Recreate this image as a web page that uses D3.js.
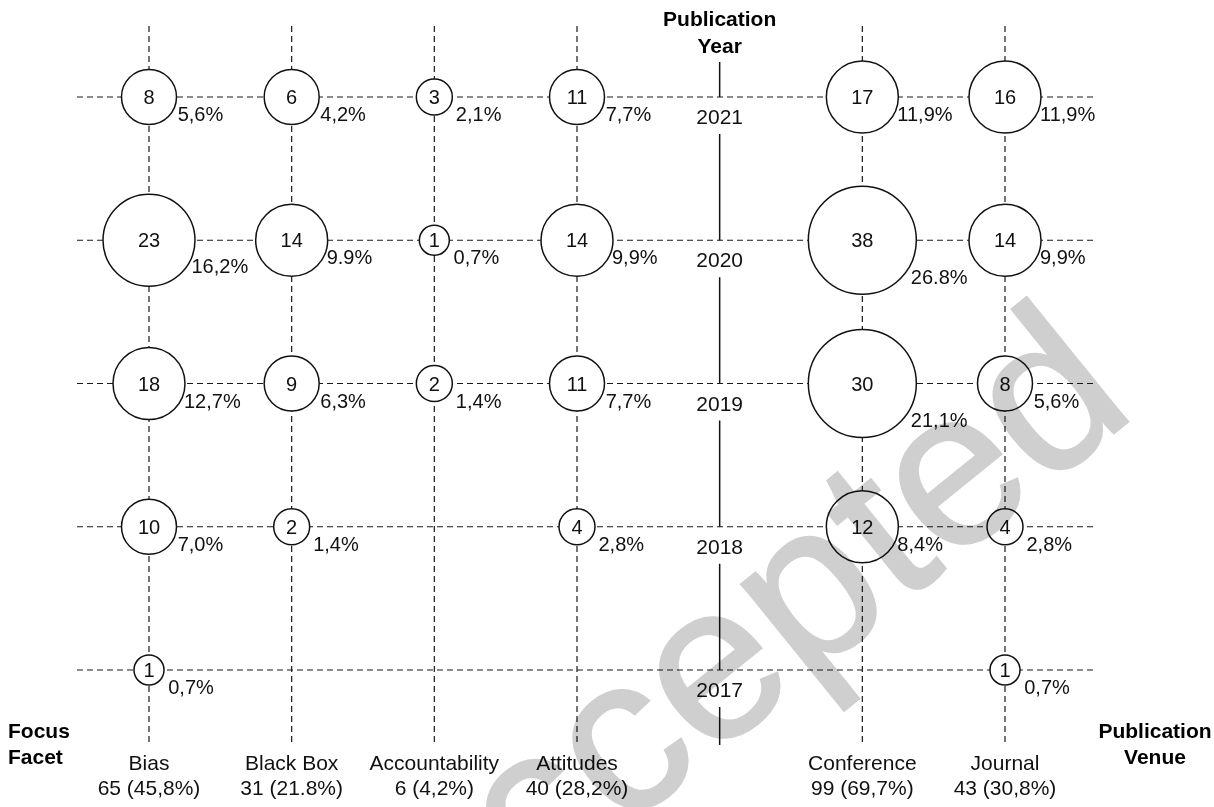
<!DOCTYPE html>
<html>
<head>
<meta charset="utf-8">
<script src="https://cdn.jsdelivr.net/npm/d3@7"></script>
<style>
  html, body { margin: 0; padding: 0; background: #fff; }
  svg { display: block; font-family: "Liberation Sans", Arial, Helvetica, sans-serif; }
</style>
</head>
<body>
<svg id="chart" width="1214" height="807"></svg>
<script>
// rows of the matrix
const years = [2021, 2020, 2019, 2018, 2017]

// columns: focus facets, then the year axis, then the venues
const facets = ['Bias', 'Black Box', 'Accountability', 'Attitudes']
const venues = ['Conference', 'Journal']

// paper counts per column, one value per year (2021 .. 2017), 0 = no circle
const biasCounts = [8, 23, 18, 10, 1]
const blackBoxCounts = [6, 14, 9, 2, 0]
const accountabilityCounts = [3, 1, 2, 0, 0]
const attitudesCounts = [11, 14, 11, 4, 0]
const conferenceCounts = [17, 38, 30, 12, 0]
const journalCounts = [16, 14, 8, 4, 1]

// share labels as printed next to each circle
const biasShares = ['5,6%', '16,2%', '12,7%', '7,0%', '0,7%']
const blackBoxShares = ['4,2%', '9.9%', '6,3%', '1,4%', '']
const accountabilityShares = ['2,1%', '0,7%', '1,4%', '', '']
const attitudesShares = ['7,7%', '9,9%', '7,7%', '2,8%', '']
const conferenceShares = ['11,9%', '26.8%', '21,1%', '8,4%', '']
const journalShares = ['11,9%', '9,9%', '5,6%', '2,8%', '0,7%']

// totals under each column
const columnTotals = ['65 (45,8%)', '31 (21.8%)', '6 (4,2%)', '40 (28,2%)', '99 (69,7%)', '43 (30,8%)']

const svg = d3.select('#chart')

const columns = [...facets, 'Year', ...venues]
const counts = [biasCounts, blackBoxCounts, accountabilityCounts, attitudesCounts, conferenceCounts, journalCounts]
const shares = [biasShares, blackBoxShares, accountabilityShares, attitudesShares, conferenceShares, journalShares]
const dataCols = [...facets, ...venues]

const x = d3.scalePoint().domain(columns).range([149, 1005])
const y = d3.scalePoint().domain(years).range([97, 670])
// circle sizes come in a few steps in the original
const r = d3.scaleThreshold().domain([2, 5, 12, 20, 26]).range([15, 18, 27.5, 36, 46, 54])

const cells = []
dataCols.forEach((c, i) => {
  years.forEach((yr, j) => {
    if (counts[i][j] > 0) cells.push({ col: c, year: yr, n: counts[i][j], share: shares[i][j] })
  })
})

const grid = svg.append('g')
  .attr('stroke', '#1a1a1a')
  .attr('stroke-width', 1.2)
  .attr('stroke-dasharray', '6,4')

grid.selectAll('line.h')
  .data(years)
  .join('line')
  .attr('class', 'h')
  .attr('x1', 77).attr('x2', 1095)
  .attr('y1', d => y(d)).attr('y2', d => y(d))

grid.selectAll('line.v')
  .data(dataCols)
  .join('line')
  .attr('class', 'v')
  .attr('x1', d => x(d)).attr('x2', d => x(d))
  .attr('y1', 26).attr('y2', 745)

// year axis: solid line broken under each year label
const yearX = x('Year')
const segs = []
let segTop = 62
years.forEach(yr => {
  segs.push([segTop, y(yr)])
  segTop = y(yr) + 37
})
segs.push([segTop, 745])

svg.append('g').selectAll('line')
  .data(segs)
  .join('line')
  .attr('x1', yearX).attr('x2', yearX)
  .attr('y1', d => d[0]).attr('y2', d => d[1])
  .attr('stroke', '#111')
  .attr('stroke-width', 1.5)

svg.append('g').selectAll('text')
  .data(years)
  .join('text')
  .attr('x', yearX)
  .attr('y', d => y(d) + 27)
  .attr('text-anchor', 'middle')
  .attr('font-size', 21)
  .attr('fill', '#111')
  .text(d => d)

svg.append('text')
  .attr('x', yearX).attr('y', 26)
  .attr('text-anchor', 'middle')
  .attr('font-size', 21).attr('font-weight', 'bold')
  .selectAll('tspan')
  .data(['Publication', 'Year'])
  .join('tspan')
  .attr('x', yearX)
  .attr('dy', (d, i) => i ? 27 : 0)
  .text(d => d)

// circles
const g = svg.append('g').selectAll('g')
  .data(cells)
  .join('g')
  .attr('transform', d => 'translate(' + x(d.col) + ',' + y(d.year) + ')')

g.append('circle')
  .attr('r', d => r(d.n))
  .attr('fill', '#fff')
  .attr('stroke', '#111')
  .attr('stroke-width', 1.5)

g.append('text')
  .attr('y', 7)
  .attr('text-anchor', 'middle')
  .attr('font-size', 20)
  .attr('fill', '#111')
  .text(d => d.n)

g.append('text')
  .attr('x', d => r(d.n) * 0.75 + 8)
  .attr('y', d => 24 + Math.max(0, r(d.n) - 40) * 1.4)
  .attr('font-size', 20)
  .attr('fill', '#111')
  .text(d => d.share)

// column labels
const labels = svg.append('g').selectAll('text')
  .data(dataCols)
  .join('text')
  .attr('text-anchor', 'middle')
  .attr('font-size', 21)
  .attr('fill', '#111')

labels.append('tspan')
  .attr('x', d => x(d)).attr('y', 770)
  .text(d => d)
labels.append('tspan')
  .attr('x', d => x(d)).attr('y', 795)
  .text((d, i) => columnTotals[i])

svg.append('text')
  .attr('font-size', 21).attr('font-weight', 'bold')
  .selectAll('tspan')
  .data(['Focus', 'Facet'])
  .join('tspan')
  .attr('x', 8)
  .attr('y', (d, i) => 738 + i * 26)
  .text(d => d)

svg.append('text')
  .attr('font-size', 21).attr('font-weight', 'bold')
  .attr('text-anchor', 'middle')
  .selectAll('tspan')
  .data(['Publication', 'Venue'])
  .join('tspan')
  .attr('x', 1155)
  .attr('y', (d, i) => 738 + i * 26)
  .text(d => d)

// watermark, the "A" falls just below the page edge
svg.append('text')
  .attr('transform', 'translate(420,995) rotate(-39)')
  .attr('font-size', 222)
  .attr('fill', '#cfcfcf')
  .attr('stroke', '#cfcfcf')
  .attr('stroke-width', 2)
  .style('mix-blend-mode', 'multiply')
  .text('Accepted')
</script>
</body>
</html>
